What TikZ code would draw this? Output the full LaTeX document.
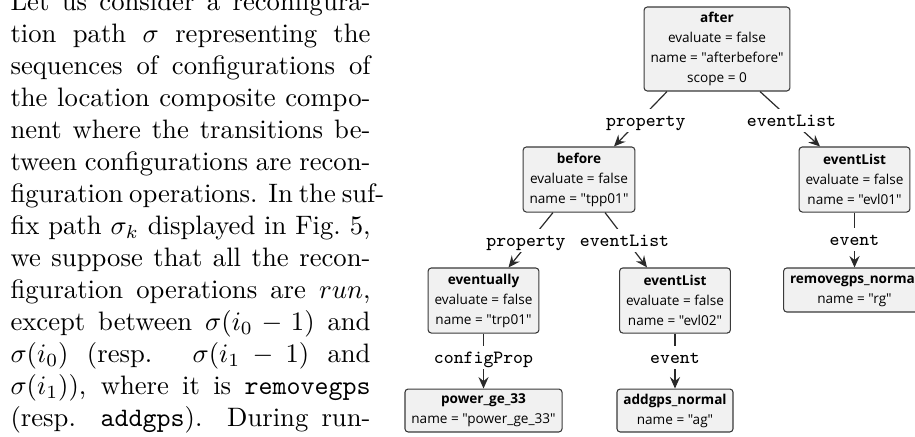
\documentclass[tikz,border=0pt]{standalone}
\usepackage{fontspec}
\newfontfamily\boxfont{Open Sans}
\usetikzlibrary{arrows.meta,calc}
\definecolor{boxfill}{HTML}{F1F1F1}
\definecolor{boxline}{HTML}{3A3A3A}
\definecolor{edgecol}{HTML}{2A2A2A}
\newlength\evw
\AtBeginDocument{%
  \settowidth\evw{\boxfont\fontsize{10}{12}\selectfont evaluate = false}%
  \pgfmathsetmacro\bfs{10*36.75/\evw}}
\begin{document}
\begin{tikzpicture}[x=0.375pt,y=-0.375pt,
  box/.style={draw=boxline, fill=boxfill, line width=0.4pt, rounded corners=1.2pt,
    align=center, inner xsep=2.4pt, inner ysep=0pt,
    font=\boxfont\fontsize{\bfs}{7.5}\selectfont},
  lbl/.style={fill=white, inner xsep=1pt, inner ysep=0pt, text height=6.5pt,
    text depth=2.4pt, font=\ttfamily\fontsize{7}{8}\selectfont, anchor=base},
  edge/.style={draw=edgecol, line width=0.45pt},
  arr/.style={edge, -{Stealth[length=4.3pt,width=3.8pt,inset=1.5pt]}},
  txt/.style={anchor=base west, inner sep=0pt, font=\fontsize{10}{12}\selectfont}
]
\useasboundingbox (0,0) rectangle (915,436);

% paragraph
\node[txt] (t1)  at (10,10)  {\makebox[135pt][s]{Let us consider a reconfigura-}};
\node[txt] (t2)  at (10,42)  {\makebox[135pt][s]{tion path $\sigma$ representing the}};
\node[txt] (t3)  at (10,74)  {\makebox[135pt][s]{sequences of configurations of}};
\node[txt] (t4)  at (10,106) {\makebox[135pt][s]{the location composite compo-}};
\node[txt] (t5)  at (10,138) {\makebox[135pt][s]{nent where the transitions be-}};
\node[txt] (t6)  at (10,170) {\makebox[135pt][s]{tween configurations are recon-}};
\node[txt] (t7)  at (10,202) {\makebox[135pt][s]{figuration operations. In the suf-}};
\node[txt] (t8)  at (10,234) {\makebox[135pt][s]{fix path $\sigma_k$ displayed in Fig.~5,}};
\node[txt] (t9)  at (10,266) {\makebox[135pt][s]{we suppose that all the recon-}};
\node[txt] (t10) at (10,298) {\makebox[135pt][s]{figuration operations are $run$,}};
\node[txt] (t11) at (10,330) {\makebox[135pt][s]{except between $\sigma(i_0-1)$ and}};
\node[txt] (t12) at (10,362) {\makebox[135pt][s]{$\sigma(i_0)$ (resp. $\sigma(i_1-1)$ and}};
\node[txt] (t13) at (10,394) {\makebox[135pt][s]{$\sigma(i_1)$), where it is \texttt{removegps}}};
\node[txt] (t14) at (10,426) {\makebox[135pt][s]{(resp. \texttt{addgps}). During run-}};

% boxes
\node[box, minimum height=31.5pt] (after) at (717,49)
  {\textbf{after}\\evaluate = false\\name = "afterbefore"\\scope = 0};
\node[box, minimum height=24.4pt] (before) at (579,179.5)
  {\textbf{before}\\evaluate = false\\name = "tpp01"};
\node[box, minimum height=24.4pt] (evlA) at (854.5,179.5)
  {\textbf{eventList}\\evaluate = false\\name = "evl01"};
\node[box, minimum height=24.4pt] (evtl) at (483.5,300.5)
  {\textbf{eventually}\\evaluate = false\\name = "trp01"};
\node[box, minimum height=24.4pt] (evlB) at (675,300.5)
  {\textbf{eventList}\\evaluate = false\\name = "evl02"};
\node[box, minimum height=16.5pt] (remg) at (854.5,290)
  {\textbf{removegps\_normal}\\name = "rg"};
\node[box, minimum height=16.1pt] (power) at (483.5,410.5)
  {\textbf{power\_ge\_33}\\name = "power\_ge\_33"};
\node[box, minimum height=16.1pt] (addg) at (675,410.5)
  {\textbf{addgps\_normal}\\name = "ag"};

% edge end points on the boxes
\coordinate (aL) at ($(after.south)+(-50,0)$);
\coordinate (aR) at ($(after.south)+(43,0)$);
\coordinate (bT) at ($(before.north)+(35,0)$);
\coordinate (eT) at ($(evlA.north)+(-34.5,0)$);
\coordinate (bL) at ($(before.south)+(-26,0)$);
\coordinate (bR) at ($(before.south)+(26,0)$);
\coordinate (vT) at ($(evtl.north)+(25,0)$);
\coordinate (lT) at ($(evlB.north)+(-28,0)$);

% edges
\draw[arr] (aL) -- (bT);
\draw[arr] (aR) -- (eT);
\draw[arr] (bL) -- (vT);
\draw[arr] (bR) -- (lT);
\draw[arr] (evlA.south) -- (remg.north);
\draw[arr] (evtl.south) -- (power.north);
\draw[arr] (evlB.south) -- (addg.north);

% edge labels
\node[lbl] (lp1) at (645.8,126) {property};
\node[lbl] (le1) at (791.5,126) {eventList};
\node[lbl] (lp2) at (526,246) {property};
\node[lbl] (le2) at (624.5,246) {eventList};
\node[lbl] (lv1) at (854.5,245) {event};
\node[lbl] (lcp) at (483.5,363) {configProp};
\node[lbl] (lv2) at (675,363) {event};
\end{tikzpicture}
\end{document}
